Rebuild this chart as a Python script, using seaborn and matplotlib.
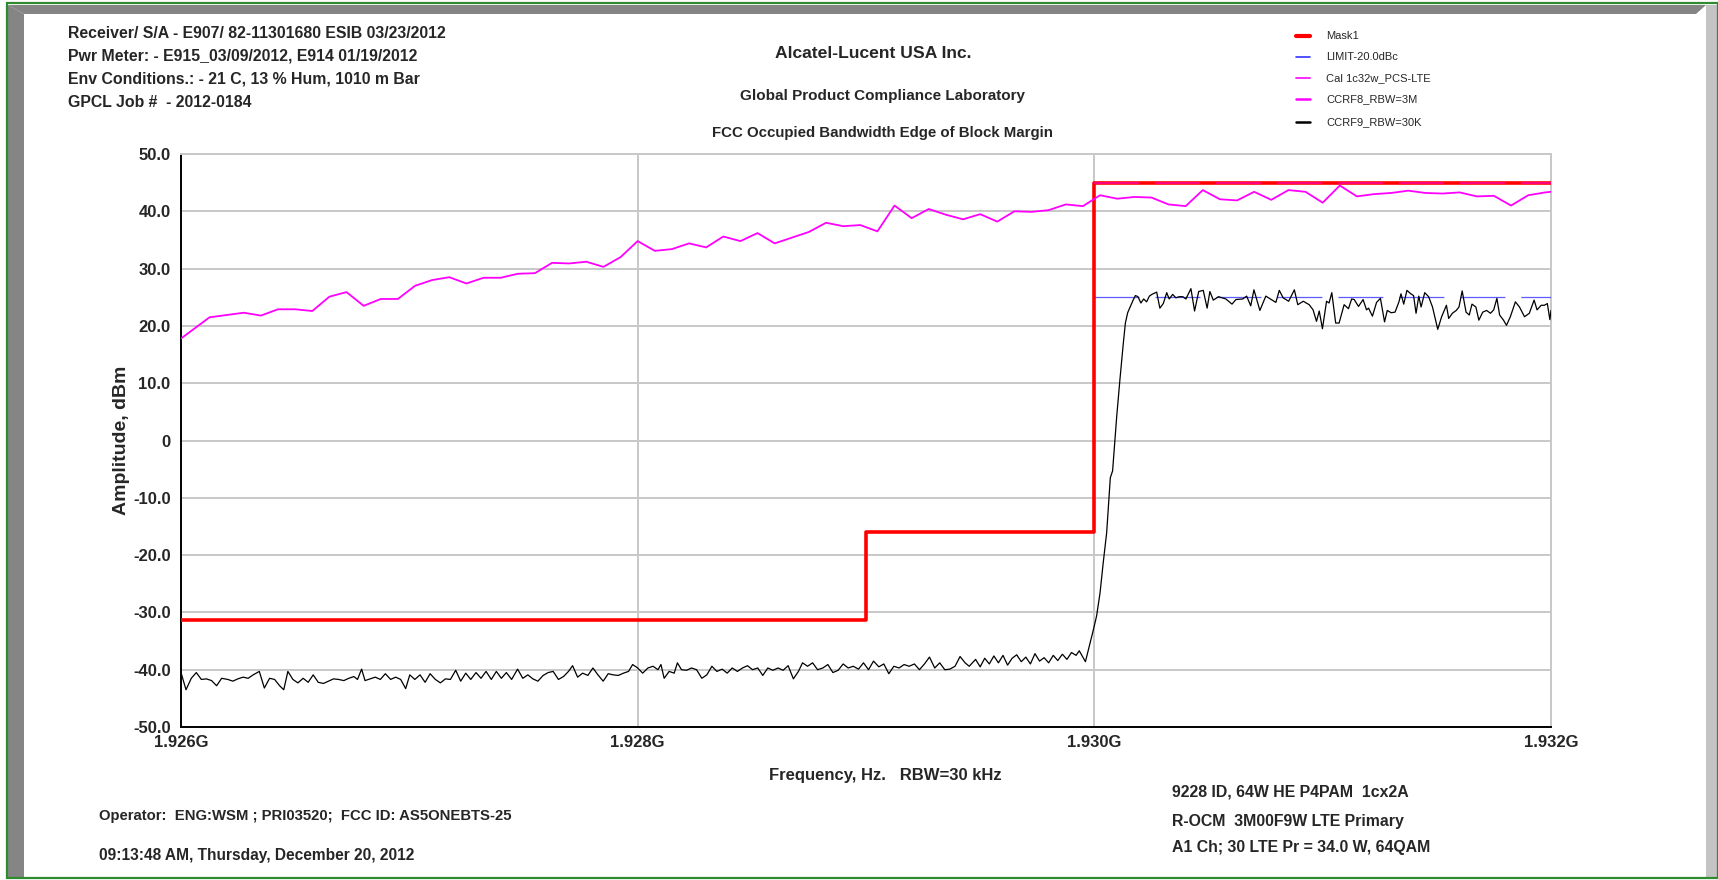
import matplotlib
matplotlib.use("Agg")
import matplotlib.pyplot as plt
import seaborn as sns
import pandas as pd
from matplotlib import font_manager as fm
from matplotlib.lines import Line2D
from matplotlib.patches import Polygon
from matplotlib.ticker import MultipleLocator, FuncFormatter

# ---------------- data (frequency in MHz, amplitude in dBm) ----------------
mask_freq = [1926.0, 1929.0, 1929.0, 1930.0, 1930.0, 1932.0]
mask_amp = [-31.4, -31.4, -16.0, -16.0, 45.0, 45.0]

limit_freq = [1930.0, 1932.0]
limit_amp = [25.0, 25.0]

cal_freq = [1930.0, 1932.0]
cal_amp = [45.0, 45.0]

ccrf8_freq = [1926.0, 1926.125, 1926.2, 1926.275, 1926.35, 1926.425, 1926.5, 1926.575, 1926.65,
              1926.725, 1926.8, 1926.875, 1926.95, 1927.025, 1927.1, 1927.175, 1927.25, 1927.325,
              1927.4, 1927.475, 1927.55, 1927.625, 1927.7, 1927.775, 1927.85, 1927.925, 1928.0,
              1928.075, 1928.15, 1928.225, 1928.3, 1928.375, 1928.45, 1928.525, 1928.6, 1928.675,
              1928.75, 1928.825, 1928.9, 1928.975, 1929.05, 1929.125, 1929.2, 1929.275, 1929.35,
              1929.425, 1929.5, 1929.575, 1929.65, 1929.725, 1929.8, 1929.875, 1929.95, 1930.025,
              1930.1, 1930.175, 1930.25, 1930.325, 1930.4, 1930.475, 1930.55, 1930.625, 1930.7,
              1930.775, 1930.85, 1930.925, 1931.0, 1931.075, 1931.15, 1931.225, 1931.3, 1931.375,
              1931.45, 1931.525, 1931.6, 1931.675, 1931.75, 1931.825, 1931.9, 1931.975, 1932.0]
ccrf8_amp = [17.8, 21.5, 21.9, 22.3, 21.8, 22.9, 22.9, 22.6, 25.1,
             25.9, 23.5, 24.7, 24.7, 27.0, 28.0, 28.5, 27.4, 28.4,
             28.4, 29.1, 29.2, 31.0, 30.9, 31.2, 30.3, 32.0, 34.8,
             33.1, 33.4, 34.4, 33.7, 35.6, 34.8, 36.2, 34.4, 35.4,
             36.4, 38.0, 37.4, 37.6, 36.5, 41.0, 38.8, 40.4, 39.4,
             38.6, 39.5, 38.2, 40.0, 39.9, 40.2, 41.2, 40.9, 42.8,
             42.2, 42.5, 42.4, 41.2, 40.9, 43.7, 42.1, 41.9, 43.4,
             42.0, 43.7, 43.4, 41.5, 44.5, 42.6, 43.0, 43.2, 43.6,
             43.2, 43.1, 43.3, 42.6, 42.7, 41.0, 42.8, 43.3, 43.4]

ccrf9_freq = [
    1926.000, 1926.022, 1926.045, 1926.067, 1926.089, 1926.111, 1926.134, 1926.156, 1926.178, 1926.205,
    1926.227, 1926.249, 1926.272, 1926.294, 1926.316, 1926.343, 1926.365, 1926.388, 1926.410, 1926.432,
    1926.450, 1926.468, 1926.490, 1926.512, 1926.535, 1926.557, 1926.579, 1926.601, 1926.624, 1926.646,
    1926.668, 1926.690, 1926.713, 1926.735, 1926.757, 1926.773, 1926.791, 1926.806, 1926.828, 1926.851,
    1926.873, 1926.895, 1926.918, 1926.940, 1926.962, 1926.984, 1927.002, 1927.024, 1927.047, 1927.069,
    1927.091, 1927.114, 1927.136, 1927.158, 1927.180, 1927.203, 1927.225, 1927.247, 1927.269, 1927.292,
    1927.314, 1927.336, 1927.359, 1927.381, 1927.403, 1927.425, 1927.448, 1927.474, 1927.497, 1927.519,
    1927.541, 1927.563, 1927.586, 1927.608, 1927.630, 1927.653, 1927.675, 1927.697, 1927.715, 1927.737,
    1927.759, 1927.782, 1927.804, 1927.826, 1927.849, 1927.871, 1927.893, 1927.915, 1927.938, 1927.960,
    1927.978, 1928.000, 1928.022, 1928.045, 1928.067, 1928.089, 1928.102, 1928.116, 1928.138, 1928.160,
    1928.174, 1928.192, 1928.214, 1928.236, 1928.258, 1928.281, 1928.303, 1928.325, 1928.347, 1928.370,
    1928.392, 1928.414, 1928.437, 1928.459, 1928.481, 1928.503, 1928.526, 1928.548, 1928.570, 1928.592,
    1928.615, 1928.637, 1928.659, 1928.682, 1928.704, 1928.722, 1928.744, 1928.766, 1928.788, 1928.811,
    1928.833, 1928.855, 1928.878, 1928.900, 1928.922, 1928.944, 1928.967, 1928.989, 1929.011, 1929.033,
    1929.056, 1929.078, 1929.100, 1929.122, 1929.145, 1929.167, 1929.189, 1929.212, 1929.234, 1929.256,
    1929.278, 1929.301, 1929.323, 1929.345, 1929.367, 1929.390, 1929.412, 1929.434, 1929.452, 1929.480,
    1929.500, 1929.520, 1929.540, 1929.560, 1929.580, 1929.600, 1929.620, 1929.640, 1929.660, 1929.680,
    1929.700, 1929.720, 1929.740, 1929.760, 1929.780, 1929.800, 1929.820, 1929.840, 1929.860, 1929.880,
    1929.900, 1929.920, 1929.934, 1929.961, 1929.978, 1929.996, 1930.010, 1930.025, 1930.039, 1930.054,
    1930.066, 1930.070, 1930.080, 1930.088, 1930.098, 1930.112, 1930.127, 1930.136, 1930.146, 1930.161,
    1930.171, 1930.180, 1930.191, 1930.204, 1930.216, 1930.229, 1930.241, 1930.252, 1930.273, 1930.287,
    1930.302, 1930.317, 1930.328, 1930.343, 1930.357, 1930.372, 1930.387, 1930.401, 1930.423, 1930.439,
    1930.457, 1930.477, 1930.494, 1930.506, 1930.521, 1930.544, 1930.576, 1930.603, 1930.620, 1930.650,
    1930.667, 1930.685, 1930.699, 1930.725, 1930.751, 1930.795, 1930.810, 1930.827, 1930.851, 1930.876,
    1930.891, 1930.915, 1930.941, 1930.958, 1930.973, 1930.985, 1930.999, 1931.017, 1931.028, 1931.040,
    1931.057, 1931.072, 1931.094, 1931.113, 1931.127, 1931.138, 1931.157, 1931.177, 1931.192, 1931.201,
    1931.218, 1931.236, 1931.253, 1931.271, 1931.283, 1931.300, 1931.317, 1931.334, 1931.343, 1931.355,
    1931.369, 1931.386, 1931.398, 1931.409, 1931.421, 1931.431, 1931.447, 1931.464, 1931.481, 1931.504,
    1931.521, 1931.542, 1931.552, 1931.568, 1931.585, 1931.597, 1931.611, 1931.628, 1931.642, 1931.654,
    1931.671, 1931.684, 1931.701, 1931.718, 1931.735, 1931.749, 1931.763, 1931.775, 1931.792, 1931.805,
    1931.822, 1931.844, 1931.862, 1931.884, 1931.905, 1931.926, 1931.939, 1931.957, 1931.971, 1931.984,
    1931.995, 1932.000]
ccrf9_amp = [
    -40.5, -43.5, -41.5, -40.5, -41.7, -41.6, -41.9, -42.8, -41.5, -41.7,
    -42.0, -41.6, -41.3, -41.5, -40.9, -40.3, -43.2, -41.5, -41.7, -42.8,
    -43.5, -40.3, -41.7, -42.3, -41.5, -42.2, -40.9, -42.2, -42.4, -42.0,
    -41.6, -41.7, -41.9, -41.5, -41.2, -41.7, -39.9, -41.9, -41.6, -41.3,
    -41.7, -40.7, -41.7, -41.3, -41.7, -43.3, -40.9, -41.7, -40.9, -42.2,
    -40.7, -41.7, -42.3, -41.6, -41.7, -40.1, -42.0, -40.6, -41.7, -40.5,
    -41.5, -40.3, -41.7, -40.3, -41.5, -40.5, -41.7, -39.9, -41.5, -40.9,
    -41.6, -42.0, -41.0, -40.5, -40.3, -41.7, -41.2, -40.3, -39.3, -41.3,
    -40.6, -41.0, -39.7, -40.9, -42.0, -40.7, -40.9, -41.0, -40.6, -40.3,
    -39.1, -39.7, -40.6, -39.7, -39.4, -40.0, -39.1, -41.5, -40.3, -40.6,
    -38.8, -40.0, -40.1, -39.7, -40.0, -41.5, -40.9, -39.4, -40.3, -39.9,
    -40.6, -39.7, -40.3, -39.7, -39.3, -40.0, -39.7, -41.0, -39.7, -40.1,
    -39.7, -40.1, -39.3, -41.6, -40.3, -38.8, -39.4, -38.8, -40.0, -39.7,
    -39.1, -40.5, -40.1, -39.0, -39.7, -39.4, -39.9, -38.8, -40.0, -38.5,
    -39.5, -39.0, -40.7, -39.4, -39.7, -39.1, -39.4, -39.0, -40.0, -39.0,
    -37.8, -39.7, -38.8, -40.0, -39.9, -39.4, -37.7, -38.8, -39.4, -38.2,
    -39.5, -38.0, -39.0, -37.6, -38.8, -37.5, -39.2, -38.0, -37.4, -38.6,
    -37.8, -39.0, -37.2, -38.5, -37.9, -38.8, -37.5, -38.4, -37.3, -38.2,
    -37.0, -37.5, -36.7, -38.6, -35.9, -33.0, -30.6, -26.6, -21.3, -16.1,
    -9.1, -6.5, -5.3, -1.0, 4.2, 10.6, 17.0, 20.5, 22.3, 23.7,
    24.6, 25.3, 25.1, 24.0, 24.7, 24.2, 25.2, 25.5, 25.9, 23.1,
    23.9, 25.8, 24.7, 25.5, 24.9, 25.1, 25.1, 24.7, 26.5, 22.6,
    26.0, 26.2, 23.1, 26.0, 24.5, 25.1, 24.7, 23.8, 24.6, 24.7,
    25.2, 23.5, 26.3, 22.7, 25.2, 24.1, 26.2, 24.9, 24.3, 26.3,
    23.7, 24.3, 23.7, 22.8, 20.8, 22.6, 19.5, 24.3, 24.0, 25.8,
    20.5, 20.5, 23.7, 23.0, 24.7, 24.6, 23.4, 24.6, 22.8, 23.1,
    21.7, 24.1, 24.8, 20.7, 22.7, 22.3, 22.4, 24.2, 25.6, 23.8,
    26.2, 25.6, 25.3, 22.2, 25.2, 23.3, 25.8, 25.1, 23.3, 19.4,
    21.6, 23.6, 21.3, 22.2, 22.7, 23.3, 26.1, 22.4, 21.9, 23.8,
    23.3, 21.0, 22.4, 22.7, 22.2, 22.8, 24.8, 21.9, 21.0, 20.1,
    21.6, 24.2, 23.3, 21.6, 22.2, 24.5, 22.8, 23.6, 23.6, 23.9,
    21.1, 22.7]

series_names = ["Mask1", "LIMIT-20.0dBc", "Cal 1c32w_PCS-LTE", "CCRF8_RBW=3M", "CCRF9_RBW=30K"]
series_colors = ["#ff0000", "#3333ff", "#ff00ff", "#ff00ff", "#000000"]

x_ticks = [1926, 1928, 1930, 1932]
x_tick_labels = ["1.926G", "1.928G", "1.930G", "1.932G"]

header_lines = ["Receiver/ S/A - E907/ 82-11301680 ESIB 03/23/2012",
                "Pwr Meter: - E915_03/09/2012, E914 01/19/2012",
                "Env Conditions.: - 21 C, 13 % Hum, 1010 m Bar",
                "GPCL Job #  - 2012-0184"]
title_lines = ["Alcatel-Lucent USA Inc.",
               "Global Product Compliance Laboratory",
               "FCC Occupied Bandwidth Edge of Block Margin"]
footer_left = ["Operator:  ENG:WSM ; PRI03520;  FCC ID: AS5ONEBTS-25",
               "09:13:48 AM, Thursday, December 20, 2012"]
footer_right = ["9228 ID, 64W HE P4PAM  1cx2A",
                "R-OCM  3M00F9W LTE Primary",
                "A1 Ch; 30 LTE Pr = 34.0 W, 64QAM"]

# ---------------- style ----------------
sns.set_style("white")
names = {f.name for f in fm.fontManager.ttflist}
NARROW = "Liberation Sans Narrow" if "Liberation Sans Narrow" in names else "Liberation Sans"
plt.rcParams["font.family"] = [NARROW, "DejaVu Sans"]
plt.rcParams["lines.scale_dashes"] = False

W, H = 1718, 880
fig = plt.figure(figsize=(W / 100, H / 100), dpi=100)
fig.patch.set_facecolor("white")


def fx(px):
    return px / W


def fy(py):
    return 1 - py / H


# window-like frame
fig.add_artist(Polygon([(fx(8), fy(5)), (fx(1706), fy(5)), (fx(1696), fy(14)), (fx(24), fy(14))],
                       closed=True, transform=fig.transFigure, facecolor="#858585", edgecolor="none"))
fig.add_artist(Polygon([(fx(8), fy(5)), (fx(24), fy(14)), (fx(24), fy(877)), (fx(8), fy(877))],
                       closed=True, transform=fig.transFigure, facecolor="#858585", edgecolor="none"))
fig.add_artist(Polygon([(fx(1706), fy(5)), (fx(1718), fy(5)), (fx(1718), fy(877)), (fx(1706), fy(877)),
                        (fx(1706), fy(14))],
                       closed=True, transform=fig.transFigure, facecolor="#c4c4c4", edgecolor="none"))
fig.add_artist(Polygon([(fx(7), fy(3.5)), (fx(1718), fy(3.5)), (fx(1718), fy(878)), (fx(7), fy(878))],
                       closed=True, transform=fig.transFigure, facecolor="none", edgecolor="#2e8b2e",
                       linewidth=1.6))

ax = fig.add_axes([fx(181), fy(727), fx(1551) - fx(181), fy(154) - fy(727)])
ax.set_facecolor("white")

DASH = (0, (32.4, 11.5))  # ~45 px on, ~16 px off

# series
sns.lineplot(x=mask_freq, y=mask_amp, ax=ax, color=series_colors[0], linewidth=2.6,
             sort=False, estimator=None, zorder=4)
sns.lineplot(x=cal_freq, y=cal_amp, ax=ax, color=series_colors[2], linewidth=1.4,
             sort=False, estimator=None, zorder=5, alpha=0.5)
ax.lines[-1].set_linestyle(DASH)
sns.lineplot(x=limit_freq, y=limit_amp, ax=ax, color=series_colors[1], linewidth=0.9,
             sort=False, estimator=None, zorder=3, alpha=0.8)
ax.lines[-1].set_linestyle(DASH)
sns.lineplot(x=ccrf8_freq, y=ccrf8_amp, ax=ax, color=series_colors[3], linewidth=1.3,
             sort=False, estimator=None, zorder=4)
sns.lineplot(x=ccrf9_freq, y=ccrf9_amp, ax=ax, color=series_colors[4], linewidth=0.9,
             sort=False, estimator=None, zorder=4)

ax.set_xlim(1926, 1932)
ax.set_ylim(-50, 50)
ax.set_xticks(x_ticks)
ax.set_xticklabels(x_tick_labels)
ax.xaxis.set_minor_locator(MultipleLocator(0.4))
ax.yaxis.set_major_locator(MultipleLocator(10))
ax.yaxis.set_minor_locator(MultipleLocator(2))
ax.yaxis.set_major_formatter(FuncFormatter(lambda v, p: "0" if abs(v) < 1e-9 else f"{v:.1f}"))
ax.grid(True, which="major", color="#c8c8c8", linewidth=1.4)
ax.set_axisbelow(True)
for s in ["top", "right"]:
    ax.spines[s].set_color("#c8c8c8")
    ax.spines[s].set_linewidth(1.4)
for s in ["left", "bottom"]:
    ax.spines[s].set_color("black")
    ax.spines[s].set_linewidth(1.4)
ax.tick_params(which="major", direction="inout", length=9, width=1.3, color="black",
               labelsize=12, pad=1)
ax.tick_params(which="minor", direction="inout", length=7, width=1.1, color="black")
ax.tick_params(axis="y", pad=3)
for lab in ax.get_xticklabels() + ax.get_yticklabels():
    lab.set_fontweight("bold")
ax.set_xlabel("")
ax.set_ylabel("")

fig.text(fx(122), fy(440), "Amplitude, dBm", rotation=90, ha="center", va="center",
         fontsize=14, fontweight="bold")
fig.text(fx(885), fy(775), "Frequency, Hz.   RBW=30 kHz", ha="center", va="center",
         fontsize=12, fontweight="bold")

# header
for i, t in enumerate(header_lines):
    fig.text(fx(68), fy([33, 56, 79, 102][i]), t, ha="left", va="center", fontsize=11.4,
             fontweight="bold")
for t, xx, yy, fs in zip(title_lines, [873, 882, 882], [53, 96, 133], [12.6, 11.0, 10.8]):
    fig.text(fx(xx), fy(yy), t, ha="center", va="center", fontsize=fs, fontweight="bold")

# legend
for name, col, yy, lw in zip(series_names, series_colors, [36, 57, 78, 99, 122],
                            [3, 1.2, 1.2, 1.8, 1.8]):
    fig.add_artist(Line2D([fx(1296), fx(1310)], [fy(yy), fy(yy)], color=col, linewidth=lw,
                          transform=fig.transFigure))
    fig.text(fx(1326), fy(yy), name, ha="left", va="center", fontsize=8)

# footer
for t, yy, fs in zip(footer_left, [816, 855], [10.7, 11.2]):
    fig.text(fx(99), fy(yy), t, ha="left", va="center", fontsize=fs, fontweight="bold")
for t, yy in zip(footer_right, [792, 821, 847]):
    fig.text(fx(1172), fy(yy), t, ha="left", va="center", fontsize=11.4, fontweight="bold")

fig.savefig("out.png", dpi=100, facecolor="white")
